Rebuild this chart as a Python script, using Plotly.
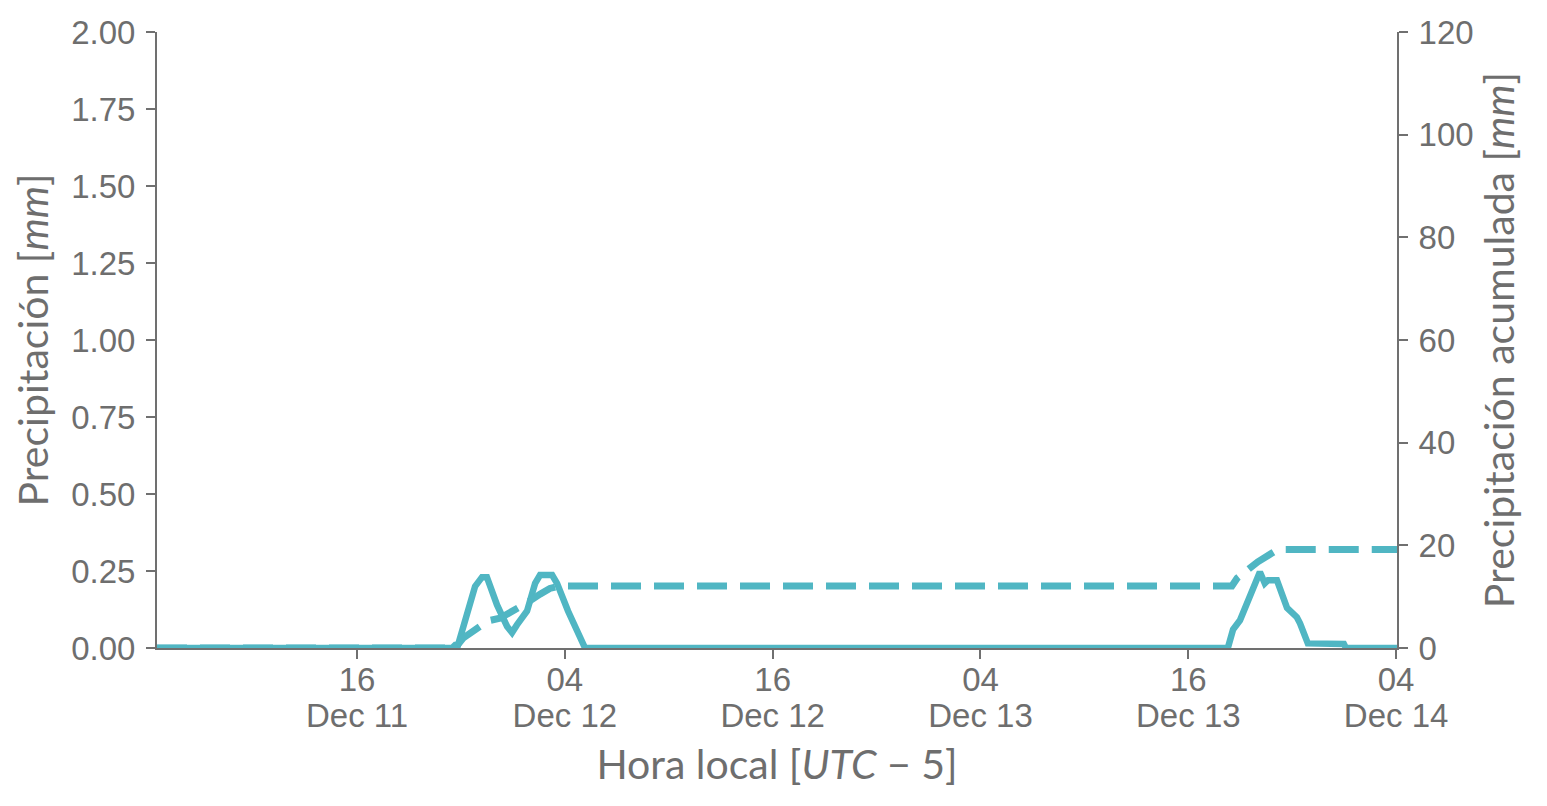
"""Precipitación y precipitación acumulada (hora local UTC-5)."""
import plotly.graph_objects as go
from plotly.subplots import make_subplots

# Precipitación por intervalo [mm]
precip_time = [
    "2023-12-11 04:27", "2023-12-11 21:29", "2023-12-11 21:40", "2023-12-11 21:50",
    "2023-12-11 22:49", "2023-12-11 23:13", "2023-12-11 23:30", "2023-12-12 00:05",
    "2023-12-12 00:40", "2023-12-12 00:57", "2023-12-12 01:14", "2023-12-12 01:49",
    "2023-12-12 02:17", "2023-12-12 02:34", "2023-12-12 03:16", "2023-12-12 03:33",
    "2023-12-12 04:11", "2023-12-12 04:46", "2023-12-12 05:03", "2023-12-12 05:10",
    "2023-12-13 18:17", "2023-12-13 18:35", "2023-12-13 18:59", "2023-12-13 19:34",
    "2023-12-13 20:08", "2023-12-13 20:25", "2023-12-13 20:36", "2023-12-13 21:07",
    "2023-12-13 21:42", "2023-12-13 22:16", "2023-12-13 22:27", "2023-12-13 22:54",
    "2023-12-14 00:59", "2023-12-14 01:06", "2023-12-14 04:03",
]
precip_mm = [
    0.0, 0.0, 0.01, 0.01,
    0.20, 0.23, 0.23, 0.14,
    0.07, 0.05, 0.075, 0.12,
    0.21, 0.237, 0.237, 0.21,
    0.12, 0.05, 0.01, 0.0,
    0.0, 0.06, 0.09, 0.17,
    0.247, 0.21, 0.22, 0.22,
    0.13, 0.10, 0.08, 0.015,
    0.013, 0.0, 0.0,
]

# Precipitación acumulada [mm]
accum_time = [
    "2023-12-11 04:27", "2023-12-11 21:40", "2023-12-11 22:07", "2023-12-11 22:49",
    "2023-12-11 23:34", "2023-12-12 00:15", "2023-12-12 00:57", "2023-12-12 01:49",
    "2023-12-12 02:34", "2023-12-12 03:08", "2023-12-12 03:43", "2023-12-13 18:31",
    "2023-12-13 18:49", "2023-12-13 19:26", "2023-12-13 20:01", "2023-12-13 20:50",
    "2023-12-13 21:11", "2023-12-14 04:03",
]
accum_mm = [
    0.0, 0.0, 1.9, 3.5,
    5.3, 5.8, 7.0, 8.8,
    10.5, 11.6, 12.1, 12.1,
    13.6, 15.3, 16.8, 18.5,
    19.2, 19.2,
]

x_range = ["2023-12-11 04:27", "2023-12-14 04:03"]
tick_start = "2023-12-11 04:00"
tick_step = 12 * 3600 * 1000  # 12 h

line_color = "#50b6c3"
axis_color = "#707070"
text_color = "#6e6e6e"
tick_font = dict(family="Liberation Sans, Arial", size=33, color=text_color)
title_font = dict(family="Lato, Noto Sans", size=41, color=text_color)

fig = make_subplots(specs=[[{"secondary_y": True}]])

fig.add_trace(
    go.Scatter(x=precip_time, y=precip_mm, mode="lines", name="Precipitación",
               line=dict(color=line_color, width=6.5)),
    secondary_y=False,
)
fig.add_trace(
    go.Scatter(x=accum_time, y=accum_mm, mode="lines", name="Acumulada",
               line=dict(color=line_color, width=7, dash="30px,13px")),
    secondary_y=True,
)
# empty trace so the overlaid date-label axis gets drawn
fig.add_trace(go.Scatter(x=[], y=[], xaxis="x3", yaxis="y", hoverinfo="skip", showlegend=False))

# the page body adds an 8 px offset, margins are shifted to compensate
fig.update_layout(
    width=1547, height=806,
    margin=dict(l=149, r=158, t=24, b=166),
    paper_bgcolor="white", plot_bgcolor="white",
    showlegend=False,
)

axis_style = dict(
    showgrid=False, zeroline=False, automargin=False,
    showline=True, linecolor=axis_color, linewidth=2,
    ticks="outside", ticklen=9, tickwidth=2, tickcolor=axis_color,
    tickfont=tick_font,
)

fig.update_xaxes(
    domain=[0, 1], range=x_range,
    tick0=tick_start, dtick=tick_step, tickformat="%H",
    ticklabelstandoff=-8,
    title=dict(text="Hora local [<i>UTC</i> − 5]", font=title_font, standoff=54),
    **axis_style,
)
# second line of the date labels (tighter line spacing than <br>)
fig.update_layout(
    xaxis3=dict(
        type="date", overlaying="x", anchor="y", side="bottom", domain=[0, 1],
        range=x_range, tick0=tick_start, dtick=tick_step, tickformat="%b %d",
        showgrid=False, zeroline=False, showline=False, ticks="",
        automargin=False, tickfont=tick_font, ticklabelstandoff=45,
    )
)
fig.update_yaxes(
    range=[0, 2], dtick=0.25, tickformat=".2f", ticklabelstandoff=4,
    title=dict(text="Precipitación [<i>mm</i>]", font=title_font, standoff=12),
    secondary_y=False,
    **axis_style,
)
fig.update_yaxes(
    range=[0, 120], dtick=20, ticklabelstandoff=4,
    title=dict(text="Precipitación acumulada [<i>mm</i>]", font=title_font, standoff=12),
    secondary_y=True,
    **axis_style,
)

fig.write_html("out.html")
